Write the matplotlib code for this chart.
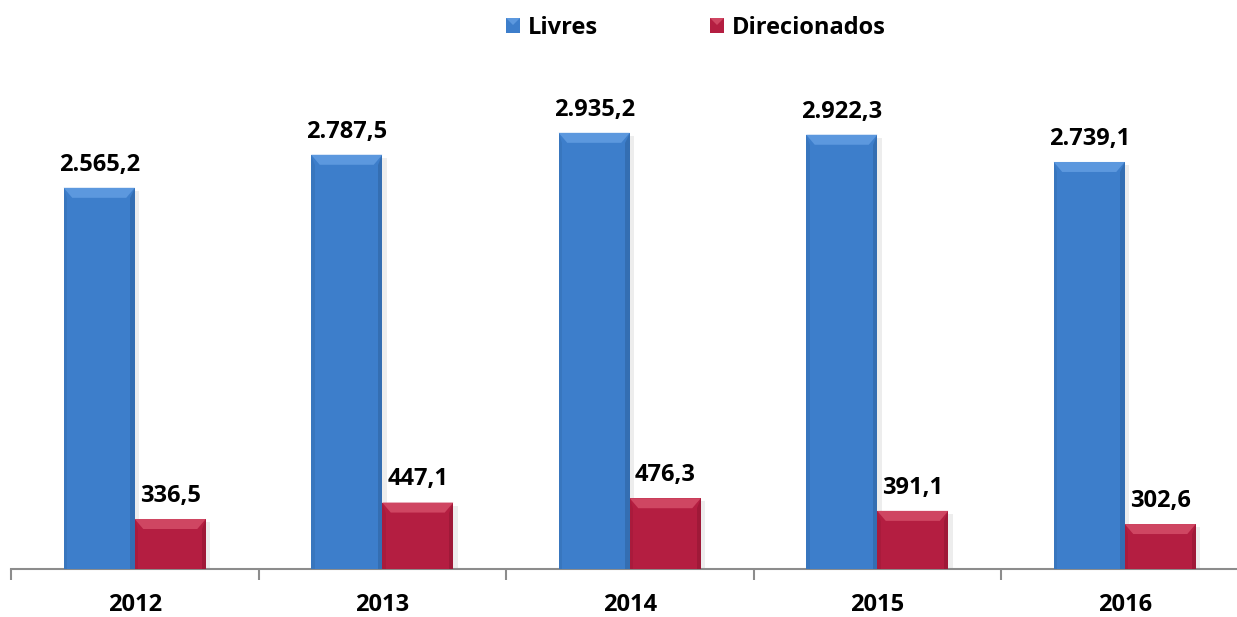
import matplotlib
matplotlib.use("Agg")
import matplotlib.pyplot as plt
from matplotlib.patches import Rectangle, Polygon
import numpy as np

years = ["2012", "2013", "2014", "2015", "2016"]
livres = [2565.2, 2787.5, 2935.2, 2922.3, 2739.1]
direcionados = [336.5, 447.1, 476.3, 391.1, 302.6]
series_names = ["Livres", "Direcionados"]

BLUE = "#3D7ECB"
BLUE_DARK = "#2D5F9B"
BLUE_LIGHT = "#5C98DE"
RED = "#B41E41"
RED_DARK = "#8C1530"
RED_LIGHT = "#CF4662"

FONT = "Open Sans"
FS = 17

W, H = 1237, 617
fig = plt.figure(figsize=(W / 100, H / 100), dpi=100)
ax_left = 11 / W
ax_bottom = (H - 569) / H
ax_width = 1237.5 / W
ax_height = 569 / H
ax = fig.add_axes([ax_left, ax_bottom, ax_width, ax_height])

px_per_unit = 0.1486
ymax = 569 / px_per_unit
ax.set_xlim(-0.5, 4.5)
ax.set_ylim(0, ymax)

bw = 0.287
x = np.arange(len(years))

def fmt(v):
    s = f"{v:,.1f}"
    return s.replace(",", "X").replace(".", ",").replace("X", ".")

def draw_bars(xs, vals, col, dark, light):
    bars = ax.bar(xs, vals, width=bw, color=col, edgecolor="none", zorder=3)
    for b in bars:
        x0, w, h = b.get_x(), b.get_width(), b.get_height()
        # shadow
        ax.add_patch(Rectangle((x0 + w * 0.06, 0), w, h - 20, color="#000000",
                               alpha=0.07, zorder=2, linewidth=0))
        bev_y = 10 / px_per_unit
        bev_x = w * 0.12
        # top bevel
        ax.add_patch(Polygon([(x0, h), (x0 + w, h), (x0 + w - bev_x, h - bev_y),
                              (x0 + bev_x, h - bev_y)], closed=True,
                             facecolor=light, edgecolor="none", zorder=4))
        # right dark edge
        ax.add_patch(Polygon([(x0 + w, h), (x0 + w, 0), (x0 + w - bev_x * 0.5, 0),
                              (x0 + w - bev_x * 0.5, h - bev_y)], closed=True,
                             facecolor=dark, edgecolor="none", alpha=0.5, zorder=4))
        # left edge slightly darker
        ax.add_patch(Polygon([(x0, h), (x0, 0), (x0 + bev_x * 0.4, 0),
                              (x0 + bev_x * 0.4, h - bev_y)], closed=True,
                             facecolor=dark, edgecolor="none", alpha=0.25, zorder=4))
    for xi, v in zip(xs, vals):
        ax.annotate(fmt(v), (xi, v), xytext=(0, 8), textcoords="offset points",
                    ha="center", va="bottom", fontsize=FS, fontweight="bold",
                    family=FONT, color="black", zorder=5)

draw_bars(x - bw / 2, livres, BLUE, BLUE_DARK, BLUE_LIGHT)
draw_bars(x + bw / 2, direcionados, RED, RED_DARK, RED_LIGHT)

for s in ["top", "right", "left"]:
    ax.spines[s].set_visible(False)
ax.spines["bottom"].set_color("#8C8C8C")
ax.spines["bottom"].set_linewidth(1.5)
ax.set_yticks([])
ax.set_xticks(np.arange(-0.5, 5, 1.0))
ax.set_xticklabels([])
ax.tick_params(axis="x", which="major", length=8, width=1.5, color="#8C8C8C")
ax.set_xticks(x, minor=True)
ax.set_xticklabels(years, minor=True, fontsize=FS, fontweight="bold", family=FONT)
ax.tick_params(axis="x", which="minor", length=0, pad=17)
ax.patch.set_alpha(0)

# legend
def legend_item(px, label, col, light):
    fig.patches.append(Rectangle((px / W, 1 - 33 / H), 14 / W, 15 / H,
                                 transform=fig.transFigure, facecolor=col,
                                 edgecolor="none"))
    fig.patches.append(Polygon([(px / W, 1 - 18 / H), ((px + 14) / W, 1 - 18 / H),
                                ((px + 7) / W, 1 - 25 / H)], closed=True,
                               transform=fig.transFigure, facecolor=light,
                               edgecolor="none"))
    fig.text((px + 22) / W, 1 - 28 / H, label, fontsize=FS, fontweight="bold",
             family=FONT, va="center", ha="left")

legend_item(506, series_names[0], BLUE, BLUE_LIGHT)
legend_item(710, series_names[1], RED, RED_LIGHT)

fig.savefig("out.png", dpi=100)
